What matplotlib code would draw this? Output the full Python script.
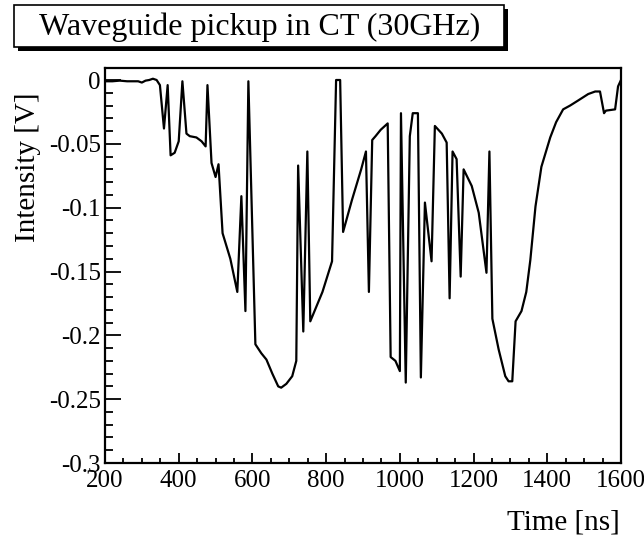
import matplotlib
matplotlib.use("Agg")
import matplotlib.pyplot as plt
from matplotlib.patches import Rectangle
from matplotlib.ticker import MultipleLocator, FixedLocator

# waveform
time_ns = [205, 220, 240, 260, 275, 290, 300, 310, 320, 330, 340, 349,
           360, 370, 378, 389, 400, 410, 421, 430, 448, 462, 473, 478,
           489, 500, 508, 519, 540, 559, 570, 581, 589, 608, 624, 638,
           654, 670, 678, 692, 708, 719, 724, 738, 749, 757, 790, 816,
           827, 838, 846, 870, 895, 908, 916, 925, 934, 948, 967, 975,
           988, 1000, 1003, 1016, 1027, 1035, 1049, 1057, 1068, 1086, 1095, 1114,
           1127, 1135, 1143, 1154, 1165, 1173, 1195, 1214, 1235, 1243, 1251, 1268,
           1286, 1295, 1305, 1314, 1330, 1343, 1354, 1368, 1384, 1408, 1424, 1443,
           1462, 1484, 1511, 1530, 1543, 1554, 1559, 1584, 1592, 1600]
intensity_v = [-0.001, -0.001, -0.0005, -0.001, -0.001, -0.001, -0.002, -0.0005, 0.0, 0.001, 0.0, -0.004,
               -0.038, -0.004, -0.059, -0.057, -0.048, -0.001, -0.042, -0.044, -0.045, -0.048, -0.052, -0.004,
               -0.065, -0.076, -0.066, -0.120, -0.140, -0.166, -0.091, -0.181, -0.001, -0.207, -0.214, -0.219,
               -0.230, -0.240, -0.241, -0.238, -0.232, -0.220, -0.067, -0.197, -0.056, -0.189, -0.166, -0.142,
               0.0, 0.0, -0.119, -0.094, -0.070, -0.056, -0.166, -0.047, -0.044, -0.039, -0.034, -0.217,
               -0.220, -0.228, -0.026, -0.237, -0.044, -0.026, -0.026, -0.233, -0.096, -0.142, -0.036, -0.042,
               -0.049, -0.171, -0.056, -0.062, -0.154, -0.070, -0.083, -0.104, -0.151, -0.056, -0.187, -0.211,
               -0.232, -0.236, -0.236, -0.189, -0.181, -0.166, -0.141, -0.099, -0.068, -0.045, -0.033, -0.023,
               -0.020, -0.016, -0.011, -0.009, -0.009, -0.026, -0.024, -0.023, -0.005, 0.0]

title = "Waveguide pickup in CT (30GHz)"
x_label = "Time [ns]"
y_label = "Intensity [V]"
x_ticks = [200, 400, 600, 800, 1000, 1200, 1400, 1600]
y_ticks = [0, -0.05, -0.1, -0.15, -0.2, -0.25, -0.3]
y_tick_labels = ["0", "-0.05", "-0.1", "-0.15", "-0.2", "-0.25", "-0.3"]

W, H = 644, 542
plt.rcParams["font.family"] = ["Liberation Serif", "DejaVu Serif"]

fig = plt.figure(figsize=(W / 100, H / 100), dpi=100)
fig.patch.set_facecolor("white")

# axes frame in pixels: left 105, right 621, top 68, bottom 463
ax = fig.add_axes([105 / W, (H - 463) / H, (621 - 105) / W, (463 - 68) / H])
ax.plot(time_ns, intensity_v, color="black", lw=1.6)
ax.set_xlim(200, 1600)
ax.set_ylim(-0.3, 0.0094)

ax.xaxis.set_major_locator(FixedLocator(x_ticks))
ax.xaxis.set_minor_locator(MultipleLocator(50))
ax.yaxis.set_major_locator(FixedLocator(y_ticks))
ax.yaxis.set_minor_locator(MultipleLocator(0.01))
ax.set_yticklabels(y_tick_labels)
ax.set_xticklabels([str(t) for t in x_ticks])

ax.tick_params(axis="both", which="both", direction="in", top=False, right=False,
               width=1.3, labelsize=18, color="black")
ax.tick_params(axis="x", which="major", length=7.5, pad=5)
ax.tick_params(axis="x", which="minor", length=3.8)
ax.tick_params(axis="y", which="major", length=11.5, pad=3)
ax.tick_params(axis="y", which="minor", length=5.8)
for s in ax.spines.values():
    s.set_linewidth(1.6)

fig.text(28 / W, 1 - 167 / H, y_label, rotation=90, ha="center", va="center", fontsize=21)
fig.text(620 / W, 1 - 523 / H, x_label, ha="right", va="center", fontsize=21)

# title box with shadow, ROOT style
bx0, by0, bx1, by1 = 14, 5, 504, 47
sh = 4
fig.patches.append(Rectangle(((bx0 + sh) / W, 1 - (by1 + sh) / H), (bx1 - bx0) / W, (by1 - by0) / H,
                             transform=fig.transFigure, facecolor="black", edgecolor="black", lw=0))
fig.patches.append(Rectangle((bx0 / W, 1 - by1 / H), (bx1 - bx0) / W, (by1 - by0) / H,
                             transform=fig.transFigure, facecolor="white", edgecolor="black", lw=1.2))
fig.text(260 / W, 1 - 35 / H, title, ha="center", va="baseline", fontsize=23)

fig.savefig("out.png", dpi=100, facecolor="white")
